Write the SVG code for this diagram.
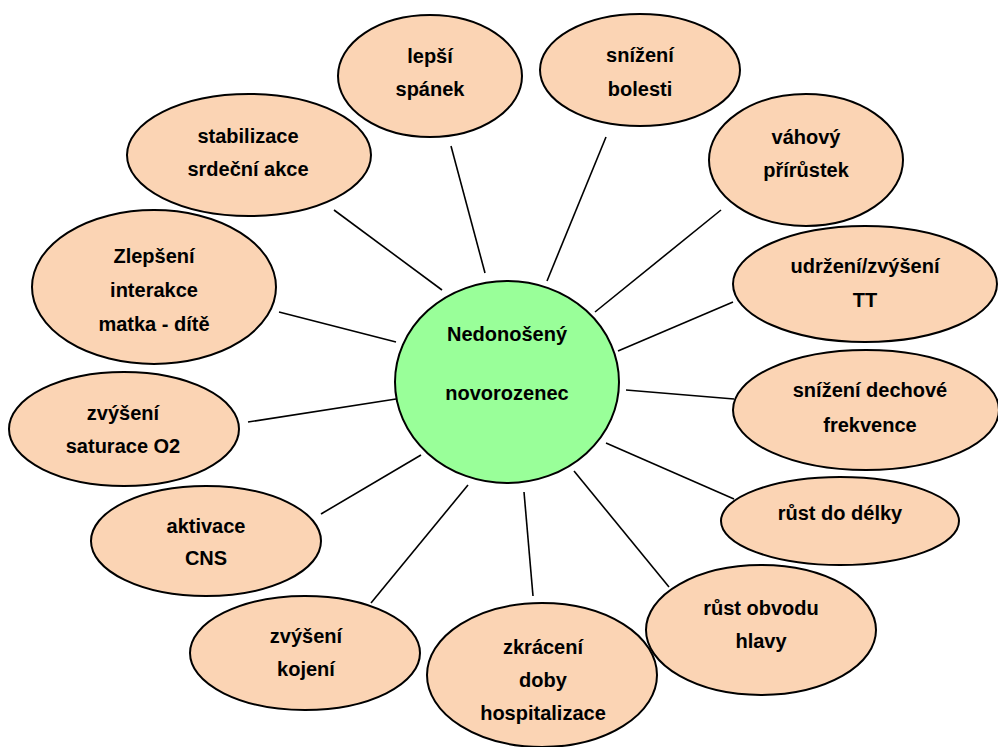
<svg xmlns="http://www.w3.org/2000/svg" width="998" height="747" viewBox="0 0 998 747">
<style>
.n{fill:#FBD4B4;stroke:#000;stroke-width:2}
.c{fill:#99FF99;stroke:#000;stroke-width:2}
.t{font-family:"Liberation Sans",Arial,sans-serif;font-weight:bold;font-size:20px;fill:#000;text-anchor:middle}
#connectors line{stroke:#000;stroke-width:1.6}
</style>
<rect width="998" height="747" fill="#fff"/>
<g id="connectors">
<line x1="451" y1="146" x2="485" y2="273"/>
<line x1="334" y1="210" x2="442" y2="290"/>
<line x1="279" y1="312" x2="396" y2="342"/>
<line x1="606" y1="137" x2="547" y2="281"/>
<line x1="721" y1="210" x2="595" y2="312"/>
<line x1="733" y1="302" x2="618" y2="351"/>
<line x1="248" y1="422" x2="396" y2="399"/>
<line x1="321" y1="514" x2="421" y2="455"/>
<line x1="371" y1="603" x2="468" y2="485"/>
<line x1="626" y1="390" x2="734" y2="399"/>
<line x1="606" y1="443" x2="734" y2="499"/>
<line x1="574" y1="471" x2="669" y2="587"/>
<line x1="524" y1="492" x2="533" y2="596"/>
</g>
<g id="center">
<ellipse class="c" cx="507" cy="382" rx="112" ry="101"/>
<text class="t" x="507" y="341">Nedonošený</text>
<text class="t" x="507" y="400">novorozenec</text>
</g>
<g id="n-lepsi">
<ellipse class="n" cx="430" cy="76" rx="92" ry="61"/>
<text class="t" x="430" y="63">lepší</text>
<text class="t" x="430" y="96">spánek</text>
</g>
<g id="n-bolesti">
<ellipse class="n" cx="640" cy="70" rx="100" ry="56"/>
<text class="t" x="640" y="62">snížení</text>
<text class="t" x="640" y="96">bolesti</text>
</g>
<g id="n-vahovy">
<ellipse class="n" cx="806" cy="160" rx="97" ry="66"/>
<text class="t" x="806" y="144">váhový</text>
<text class="t" x="806" y="177">přírůstek</text>
</g>
<g id="n-tt">
<ellipse class="n" cx="865" cy="284" rx="132" ry="58"/>
<text class="t" x="865" y="273">udržení/zvýšení</text>
<text class="t" x="865" y="307">TT</text>
</g>
<g id="n-dechove">
<ellipse class="n" cx="866" cy="410" rx="133" ry="60"/>
<text class="t" x="870" y="397">snížení dechové</text>
<text class="t" x="870" y="432">frekvence</text>
</g>
<g id="n-delky">
<ellipse class="n" cx="840" cy="521" rx="119" ry="44"/>
<text class="t" x="840" y="520">růst do délky</text>
</g>
<g id="n-obvodu">
<ellipse class="n" cx="761" cy="630" rx="115" ry="65"/>
<text class="t" x="761" y="615">růst obvodu</text>
<text class="t" x="761" y="648">hlavy</text>
</g>
<g id="n-hospitalizace">
<ellipse class="n" cx="542" cy="675" rx="115" ry="72"/>
<text class="t" x="543" y="654">zkrácení</text>
<text class="t" x="543" y="687">doby</text>
<text class="t" x="543" y="720">hospitalizace</text>
</g>
<g id="n-kojeni">
<ellipse class="n" cx="305" cy="653" rx="115" ry="57"/>
<text class="t" x="306" y="643">zvýšení</text>
<text class="t" x="306" y="676">kojení</text>
</g>
<g id="n-cns">
<ellipse class="n" cx="206" cy="541" rx="115" ry="55"/>
<text class="t" x="206" y="533">aktivace</text>
<text class="t" x="206" y="565">CNS</text>
</g>
<g id="n-saturace">
<ellipse class="n" cx="124" cy="429" rx="115" ry="57"/>
<text class="t" x="123" y="420">zvýšení</text>
<text class="t" x="123" y="453">saturace O2</text>
</g>
<g id="n-interakce">
<ellipse class="n" cx="154" cy="287" rx="122" ry="77"/>
<text class="t" x="154" y="263">Zlepšení</text>
<text class="t" x="154" y="297">interakce</text>
<text class="t" x="154" y="331">matka - dítě</text>
</g>
<g id="n-srdecni">
<ellipse class="n" cx="249" cy="155" rx="122" ry="61"/>
<text class="t" x="248" y="143">stabilizace</text>
<text class="t" x="248" y="176">srdeční akce</text>
</g>
</svg>
